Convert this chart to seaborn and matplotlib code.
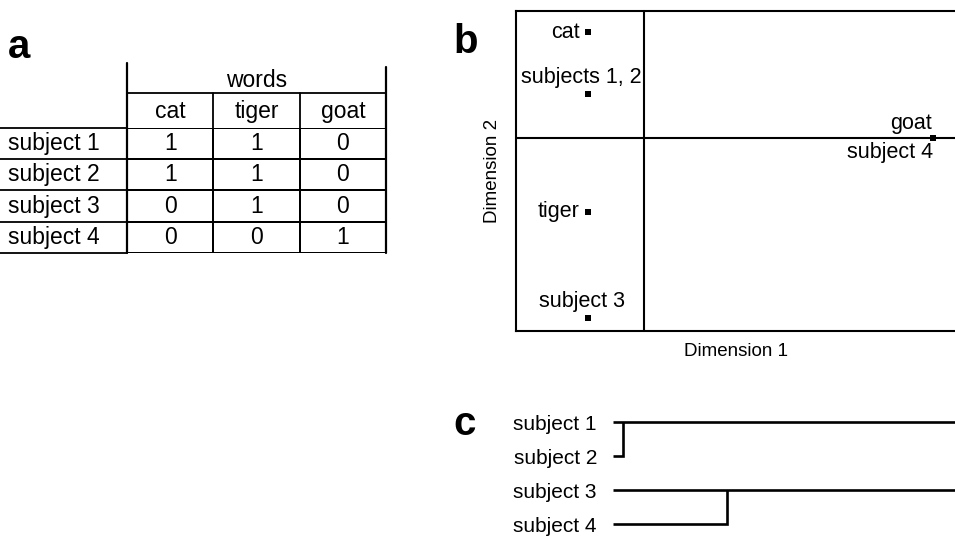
import matplotlib
matplotlib.use("Agg")
import matplotlib.pyplot as plt
from matplotlib.colors import ListedColormap
import numpy as np
import pandas as pd
import seaborn as sns

# a: 단어 사용 표
words = ["cat", "tiger", "goat"]
subjects = ["subject 1", "subject 2", "subject 3", "subject 4"]
usage = [[1, 1, 0],
         [1, 1, 0],
         [0, 1, 0],
         [0, 0, 1]]

# b: 2차원 배치 (그림에서 읽은 좌표)
pt_labels = ["cat", "subjects 1, 2", "tiger", "subject 3", "goat", "subject 4"]
dim1 = [-0.56, -0.56, -0.56, -0.56, 2.89, 2.89]
dim2 = [1.06, 0.44, -0.74, -1.80, 0.0, 0.0]

# c: 군집 병합 거리
merge_pairs = [(0, 1), (2, 3)]
merge_dist = [0.10, 1.14]

sns.set_style("white")
plt.rcParams["font.family"] = ["Liberation Sans", "DejaVu Sans"]
plt.rcParams["text.color"] = "black"
plt.rcParams["axes.labelcolor"] = "black"
plt.rcParams["xtick.color"] = "black"
plt.rcParams["ytick.color"] = "black"

W, H = 955, 536
fig = plt.figure(figsize=(W / 100, H / 100), dpi=100)


def box(x0, y0, x1, y1):
    # 픽셀 좌표 -> figure 비율
    return [x0 / W, 1 - y1 / H, (x1 - x0) / W, (y1 - y0) / H]


# ---------- a ----------
ax_a = fig.add_axes(box(127, 128, 386, 253))
df = pd.DataFrame(usage, index=subjects, columns=words)
sns.heatmap(df, ax=ax_a, cmap=ListedColormap(["white"]), cbar=False,
            annot=True, fmt="d", annot_kws={"fontsize": 16.5, "color": "black"},
            linewidths=1.1, linecolor="black", xticklabels=False, yticklabels=False)
lw_t = 1.3
px_x = 259 / 3
px_y = 125 / 4
left_x = -127 / px_x
hdr_y = -35 / px_y
for i in range(len(subjects) + 1):
    ax_a.plot([left_x, 0], [i, i], color="black", lw=lw_t, clip_on=False)
for i, s in enumerate(subjects):
    ax_a.text(left_x + 8 / px_x, i + 0.5, s, ha="left", va="center", fontsize=16.5)
ax_a.plot([0, 3], [hdr_y, hdr_y], color="black", lw=lw_t, clip_on=False)
for j in range(len(words) + 1):
    ax_a.plot([j, j], [hdr_y, 0], color="black", lw=lw_t, clip_on=False)
for j, w in enumerate(words):
    ax_a.text(j + 0.5, hdr_y / 2 + 1 / px_y, w, ha="center", va="center", fontsize=16.5)
ax_a.plot([0, 0], [-(128 - 63) / px_y, 4], color="black", lw=1.6, clip_on=False)
ax_a.plot([3, 3], [-(128 - 67) / px_y, 4], color="black", lw=1.6, clip_on=False)
ax_a.text(1.5, hdr_y - 12 / px_y, "words", ha="center", va="center", fontsize=16.5)

# ---------- b ----------
ax_b = fig.add_axes(box(516, 11, 955, 331))
ax_b.axhline(0, color="black", lw=1.5, zorder=1)
ax_b.axvline(0, color="black", lw=1.5, zorder=1)
sns.scatterplot(x=dim1, y=dim2, marker="s", color="black", s=20, linewidth=0,
                ax=ax_b, zorder=3)
offsets = {
    "cat": ((-5.8, 0), "right"),
    "subjects 1, 2": ((-5, 12.2), "center"),
    "tiger": ((-5.8, 0), "right"),
    "subject 3": ((-4.3, 12.2), "center"),
    "goat": ((-0.7, 10.8), "right"),
    "subject 4": ((0, -10.1), "right"),
}
for lab, x, y in zip(pt_labels, dim1, dim2):
    off, ha = offsets[lab]
    ax_b.annotate(lab, (x, y), xytext=off, textcoords="offset points",
                  ha=ha, va="center", fontsize=15.5)
ax_b.set_xlim(-1.28, 3.11)
ax_b.set_ylim(-1.93, 1.27)
ax_b.set_xticks([])
ax_b.set_yticks([])
ax_b.set_xlabel("Dimension 1", fontsize=13.5, labelpad=9)
ax_b.set_ylabel("Dimension 2", fontsize=13.5, labelpad=11)
for side in ["left", "top", "bottom"]:
    ax_b.spines[side].set_linewidth(1.5)
    ax_b.spines[side].set_color("black")
ax_b.spines["right"].set_visible(False)

# ---------- c ----------
ax_c = fig.add_axes(box(605, 410, 955, 536))
x_max = 3.42
for (a, b), d in zip(merge_pairs, merge_dist):
    ax_c.plot([0, d, d], [b, b, a], color="black", lw=1.9,
              solid_joinstyle="miter", solid_capstyle="butt")
    ax_c.plot([0, x_max], [a, a], color="black", lw=1.9, solid_capstyle="butt")
ax_c.set_xlim(-0.08, x_max)
ax_c.set_ylim((536 - 422) / 34, -(422 - 410) / 34)
ax_c.set_yticks(range(len(subjects)), subjects, fontsize=15)
ax_c.tick_params(axis="y", length=0, pad=5.8)
ax_c.set_xticks([])
sns.despine(ax=ax_c, left=True, bottom=True)

# 패널 문자
for s, x, y in [("a", 8, 58), ("b", 453, 53), ("c", 453, 435)]:
    fig.text(x / W, 1 - y / H, s, fontsize=29, fontweight="bold", va="baseline")

fig.savefig("out.png", dpi=100)
